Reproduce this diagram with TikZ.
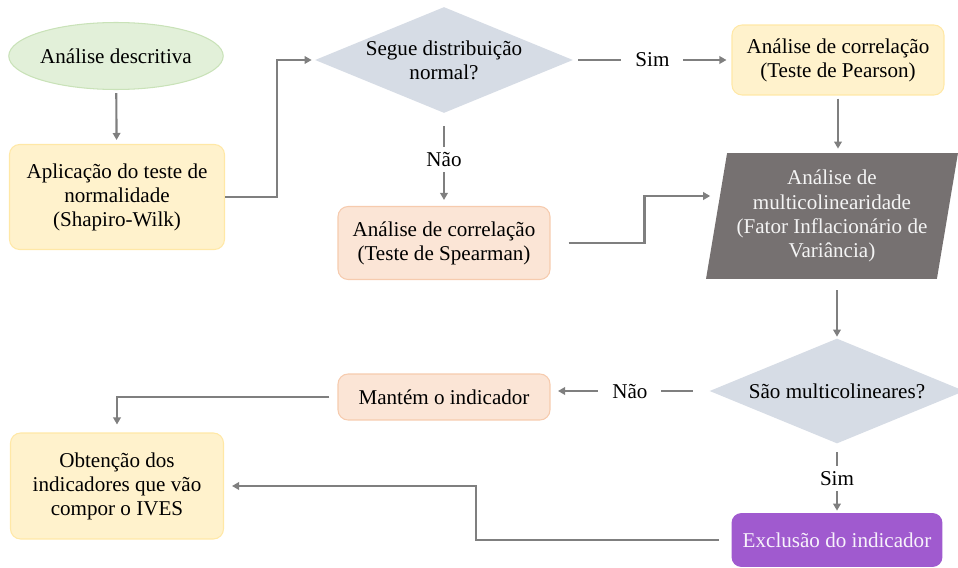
\documentclass[tikz,border=0pt]{standalone}
\usepackage{fontspec}
\setmainfont{Liberation Serif}
\usepackage{tikz}
\usetikzlibrary{arrows.meta, shapes.geometric, calc}

\definecolor{greenfill}{HTML}{E2F0D9}
\definecolor{greenline}{HTML}{C9E2B8}
\definecolor{yellowfill}{HTML}{FFF2CC}
\definecolor{yellowline}{HTML}{FFE8A6}
\definecolor{orangefill}{HTML}{FBE5D6}
\definecolor{orangeline}{HTML}{F6CBAE}
\definecolor{decisionfill}{HTML}{D6DCE5}
\definecolor{vifgray}{HTML}{767171}
\definecolor{exclpurple}{HTML}{A05ACF}
\definecolor{arrowgray}{HTML}{7F7F7F}

\begin{document}
\begin{tikzpicture}[x = 0.02cm, y = -0.02cm,
		every node/.style = {font = \fontsize{12}{13.7}\selectfont, align = center, inner sep = 0},
		startnode/.style = {ellipse, draw = greenline, fill = greenfill, line width = 0.6pt, minimum width = 4.1cm, minimum height = 1.34cm},
		yellowbox/.style = {rectangle, rounded corners = 0.2cm, draw = yellowline, fill = yellowfill, line width = 0.6pt, minimum width = 4.24cm},
		orangebox/.style = {rectangle, rounded corners = 0.2cm, draw = orangeline, fill = orangefill, line width = 0.6pt, minimum width = 4.24cm},
		purplebox/.style = {rectangle, rounded corners = 0.2cm, fill = exclpurple, text = white!92!exclpurple, minimum width = 4.22cm},
		decision/.style = {diamond, aspect = 2.47, fill = decisionfill},
		vifbox/.style = {trapezium, trapezium left angle = 77, trapezium right angle = 103, trapezium stretches body, fill = vifgray, text = white!92!vifgray, minimum width = 5.04cm, minimum height = 2.52cm},
		conn/.style = {draw = arrowgray, line width = 1.2pt, -{Triangle[length = 0.14cm, width = 0.15cm]}},
		answer/.style = {fill = white, inner xsep = 8pt, inner ysep = 3pt}
	]
			%\draw [help lines, step = 50] (0,0) grid (958,568);
			\useasboundingbox (0,0) rectangle (958,568);
			\node [startnode] (desc) at (116,56) {Análise descritiva};
			\node [yellowbox, minimum width = 4.3cm, minimum height = 2.1cm] (shap) at (117,197) {Aplicação do teste de\\normalidade\\(Shapiro-Wilk)};
			\node [decision, minimum width = 5.16cm, minimum height = 2.12cm] (norm) at (444,60) {Segue distribuição\\normal?};
			\node [yellowbox, minimum height = 1.4cm] (pear) at (838,60) {Análise de correlação\\(Teste de Pearson)};
			\node [orangebox, minimum height = 1.46cm] (spear) at (444,243) {Análise de correlação\\(Teste de Spearman)};
			\node [vifbox] (vif) at (832,216) {Análise de\\multicolinearidade\\(Fator Inflacionário de\\Variância)};
			\node [decision, minimum width = 5.1cm, minimum height = 2.1cm] (multi) at (837,391) {São multicolineares?};
			\node [orangebox, minimum height = 0.92cm] (mant) at (444,397) {Mantém o indicador};
			\node [yellowbox, minimum width = 4.26cm, minimum height = 2.12cm] (ives) at (117,486) {Obtenção dos\\indicadores que vão\\compor o IVES};
			\node [purplebox, minimum height = 1.08cm] (excl) at (837,540) {Exclusão do indicador};

			\draw [conn, shorten < = 0.06cm, shorten > = 0.08cm] (desc) -- (shap);
			\draw [conn, shorten > = 0.06cm] (shap.east) -- ++(52,0) |- (norm.west);
			\draw [conn, shorten < = 0.1cm, shorten > = 0.1cm] (norm.east) -- (pear.west) node [pos = 0.5, answer] {Sim};
			\draw [conn, shorten < = 0.26cm, shorten > = 0.12cm] (norm.south) -- (spear.north) node [pos = 0.5, answer] {Não};
			\draw [conn, shorten < = 0.06cm, shorten > = 0.08cm] (pear.south) -- (pear.south |- vif.north);
			\draw [conn, shorten < = 0.36cm, shorten > = 0.12cm] (spear.east) -- ++(94,0) |- ($(vif.west)+(0,-20)$);
			\draw [conn, shorten < = 0.22cm, shorten > = 0.03cm] (multi.north |- vif.south) -- (multi.north);
			\draw [conn, shorten < = 0.33cm, shorten > = 0.15cm] (multi.west) -- (multi.west -| mant.east) node [pos = 0.5, answer] {Não};
			\draw [conn, shorten < = 0.17cm, shorten > = 0.04cm] (multi.south) -- (excl.north) node [pos = 0.5, answer] {Sim};
			\draw [conn, shorten < = 0.16cm, shorten > = 0.16cm] (mant.west) -| (ives.north);
			\draw [conn, shorten < = 0.24cm, shorten > = 0.16cm] (excl.west) -- ++(-255,0) |- (ives.east);
	\end{tikzpicture}
\end{document}
